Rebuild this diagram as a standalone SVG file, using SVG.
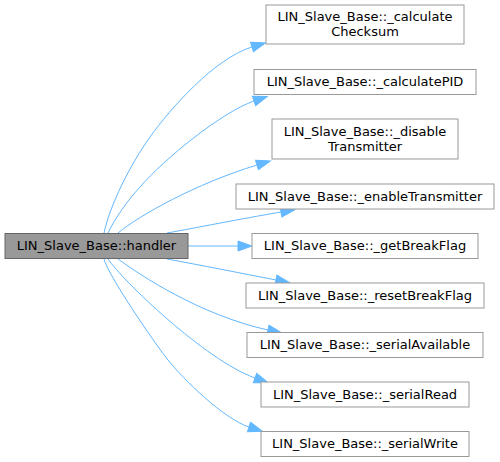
<svg xmlns="http://www.w3.org/2000/svg" width="500" height="462" viewBox="0 0 500 462">
<style>
  .node rect { fill: #ffffff; stroke: #999999; stroke-width: 1; }
  #handler rect { fill: #999999; stroke: #666666; }
  text { font-family: "DejaVu Sans", "Liberation Sans", sans-serif; font-size: 13px; fill: #000000; text-anchor: middle; }
  .edge { fill: none; stroke: #63b8ff; stroke-width: 1; }
</style>
<defs>
  <marker id="arr" markerUnits="userSpaceOnUse" markerWidth="16" markerHeight="12" refX="0" refY="5" orient="auto" overflow="visible">
    <path d="M0,0 L14,5 L0,10 Z" fill="#63b8ff" stroke="#63b8ff" stroke-width="1"/>
  </marker>
</defs>
<rect width="500" height="462" fill="#ffffff"/>
<g id="edges">
  <path class="edge" marker-end="url(#arr)" d="M104,233 C110,205 130,165 150,137 C170,109 215,58 252,47"/>
  <path class="edge" marker-end="url(#arr)" d="M108,233 C115,218 128,200 140,187 C164,159 222,112 254,101"/>
  <path class="edge" marker-end="url(#arr)" d="M118,233 C140,215 195,184 257,165"/>
  <path class="edge" marker-end="url(#arr)" d="M167,233 C195,228 240,219 281,212"/>
  <path class="edge" marker-end="url(#arr)" d="M188,246 L238,246"/>
  <path class="edge" marker-end="url(#arr)" d="M167,259 C200,265 240,273 276,280"/>
  <path class="edge" marker-end="url(#arr)" d="M118,259 C140,275 200,315 268,330"/>
  <path class="edge" marker-end="url(#arr)" d="M108,259 C122,280 205,360 255,378"/>
  <path class="edge" marker-end="url(#arr)" d="M104,259 C108,275 153,341 168,360 C183,379 224,419 249,427"/>
</g>
<g id="handler" class="node">
  <rect x="5" y="233.5" width="183" height="25"/>
  <text x="96.5" y="250">LIN_Slave_Base::handler</text>
</g>
<g id="calculateChecksum" class="node">
  <rect x="266" y="5" width="198" height="39"/>
  <text x="365" y="21">LIN_Slave_Base::_calculate</text>
  <text x="365" y="36">Checksum</text>
</g>
<g id="calculatePID" class="node">
  <rect x="254" y="69.5" width="222" height="25"/>
  <text x="365" y="86">LIN_Slave_Base::_calculatePID</text>
</g>
<g id="disableTransmitter" class="node">
  <rect x="272" y="119" width="186" height="40"/>
  <text x="365" y="135.5">LIN_Slave_Base::_disable</text>
  <text x="365" y="150.5">Transmitter</text>
</g>
<g id="enableTransmitter" class="node">
  <rect x="236" y="184" width="258" height="25"/>
  <text x="365" y="201">LIN_Slave_Base::_enableTransmitter</text>
</g>
<g id="getBreakFlag" class="node">
  <rect x="252" y="233.5" width="226" height="25"/>
  <text x="365" y="250">LIN_Slave_Base::_getBreakFlag</text>
</g>
<g id="resetBreakFlag" class="node">
  <rect x="246" y="283" width="238" height="25"/>
  <text x="365" y="300">LIN_Slave_Base::_resetBreakFlag</text>
</g>
<g id="serialAvailable" class="node">
  <rect x="247" y="332.5" width="236" height="25"/>
  <text x="365" y="349">LIN_Slave_Base::_serialAvailable</text>
</g>
<g id="serialRead" class="node">
  <rect x="261" y="382" width="208" height="25"/>
  <text x="365" y="399">LIN_Slave_Base::_serialRead</text>
</g>
<g id="serialWrite" class="node">
  <rect x="261" y="431.5" width="208" height="25"/>
  <text x="365" y="448">LIN_Slave_Base::_serialWrite</text>
</g>
</svg>
